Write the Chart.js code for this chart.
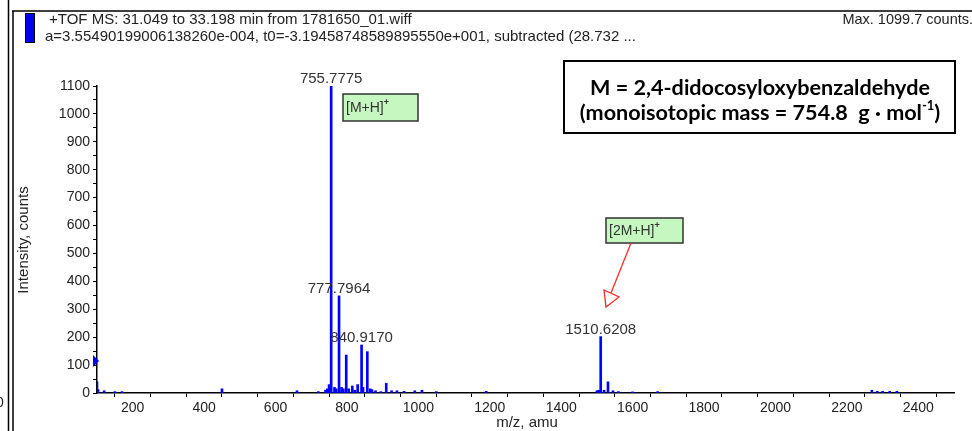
<!DOCTYPE html>
<html>
<head>
<meta charset="utf-8">
<title>TOF MS spectrum</title>
<script src="https://cdn.jsdelivr.net/npm/chart.js@4/dist/chart.umd.min.js"></script>
<style>
  html, body { margin: 0; padding: 0; background: #fff; }
  canvas { display: block; }
</style>
</head>
<body>
<canvas id="spectrum" width="972" height="431"></canvas>
<script>
// peak list: m/z and intensity (counts)
const mzValues = [100, 103, 120, 150, 170, 450, 660, 720, 740, 745, 750, 755.7775, 765, 770, 777.7964, 785, 790, 798,
  805, 815, 822, 830, 840.917, 845, 857, 865, 870, 880, 895, 910, 925, 940, 960, 990, 1010, 1050, 1190,
  1500, 1505, 1510.6208, 1520, 1531, 1545, 1560, 1600, 1670, 2270, 2285, 2300, 2320, 2340];
const intensities = [40, 12, 8, 5, 5, 15, 8, 5, 10, 15, 30, 1099.7, 20, 15, 348, 20, 15, 136,
  15, 25, 10, 30, 172, 20, 148, 15, 12, 8, 5, 35, 8, 8, 6, 8, 10, 5, 6,
  8, 10, 202, 10, 40, 8, 5, 4, 5, 10, 6, 6, 6, 6];
// peaks that get their m/z printed above them
const labelledPeaks = [755.7775, 777.7964, 840.917, 1510.6208];
const xTicks = [200, 400, 600, 800, 1000, 1200, 1400, 1600, 1800, 2000, 2200, 2400];
const yTicks = [0, 100, 200, 300, 400, 500, 600, 700, 800, 900, 1000, 1100];
const thresholdLevel = 115;

const points = mzValues.map((mz, i) => ({ x: mz, y: intensities[i] }));

function heightOf(mz) {
  return intensities[mzValues.indexOf(mz)];
}

const ARIAL = '"Liberation Sans", Arial, sans-serif';
const BOXFONT = 'Lato, "Open Sans", sans-serif';

const overlay = {
  id: 'overlay',
  afterDraw(chart) {
    const ctx = chart.ctx;
    const xs = chart.scales.x, ys = chart.scales.y;
    ctx.save();

    // window frame
    ctx.strokeStyle = '#000';
    ctx.lineWidth = 1.5;
    ctx.beginPath();
    ctx.moveTo(8.5, 0); ctx.lineTo(8.5, 431);
    ctx.moveTo(13, 11); ctx.lineTo(13, 431);
    ctx.moveTo(12, 11); ctx.lineTo(972, 11);
    ctx.stroke();

    ctx.fillStyle = '#222';
    ctx.font = '14px ' + ARIAL;
    ctx.textAlign = 'left';
    ctx.textBaseline = 'middle';
    ctx.fillText('0', -4, 403);

    // header
    ctx.fillStyle = '#0000ee';
    ctx.fillRect(25, 13, 10, 30);
    ctx.strokeStyle = '#000';
    ctx.lineWidth = 1;
    ctx.strokeRect(25.5, 13.5, 9, 29);
    ctx.fillStyle = '#222';
    ctx.font = '15px ' + ARIAL;
    ctx.fillText('+TOF MS: 31.049 to 33.198 min from 1781650_01.wiff', 49, 20);
    ctx.fillText('a=3.55490199006138260e-004, t0=-3.19458748589895550e+001, subtracted (28.732 ...', 45, 37);
    ctx.textAlign = 'right';
    ctx.font = '14.5px ' + ARIAL;
    ctx.fillText('Max. 1099.7 counts.', 973, 20);

    // axis titles
    ctx.font = '15px ' + ARIAL;
    ctx.textAlign = 'center';
    ctx.fillText('m/z, amu', 527, 423);
    ctx.save();
    ctx.translate(24, 240);
    ctx.rotate(-Math.PI / 2);
    ctx.fillText('Intensity, counts', 0, 0);
    ctx.restore();

    // peak labels
    ctx.font = '15px ' + ARIAL;
    ctx.fillStyle = '#333';
    ctx.textBaseline = 'alphabetic';
    labelledPeaks.forEach(mz => {
      const px = xs.getPixelForValue(mz);
      const py = ys.getPixelForValue(heightOf(mz));
      ctx.fillText(mz.toFixed(4), px, py - 3);
    });

    // threshold marker on the intensity axis
    const ty = ys.getPixelForValue(thresholdLevel);
    ctx.fillStyle = '#0000ee';
    ctx.beginPath();
    ctx.moveTo(93, ty - 6);
    ctx.lineTo(99, ty);
    ctx.lineTo(93, ty + 6);
    ctx.closePath();
    ctx.fill();

    // compound box
    ctx.strokeStyle = '#000';
    ctx.lineWidth = 2;
    ctx.strokeRect(564, 61, 391, 72);
    ctx.fillStyle = '#000';
    const line1 = 'M = 2,4-didocosyloxybenzaldehyde';
    ctx.font = 'bold 18px ' + BOXFONT;
    const size = 18 * 340 / ctx.measureText(line1).width;
    const big = 'bold ' + size.toFixed(1) + 'px ' + BOXFONT;
    const small = 'bold ' + (size * 0.6).toFixed(1) + 'px ' + BOXFONT;
    ctx.font = big;
    ctx.textAlign = 'center';
    ctx.textBaseline = 'middle';
    ctx.fillText(line1, 760, 88);
    const main = '(monoisotopic mass = 754.8  g \u00b7 mol';
    const sup = '-1';
    const tail = ')';
    const wMain = ctx.measureText(main).width;
    const wTail = ctx.measureText(tail).width;
    ctx.font = small;
    const wSup = ctx.measureText(sup).width;
    const x0 = 760 - (wMain + wSup + wTail) / 2;
    ctx.textAlign = 'left';
    ctx.font = big;
    ctx.fillText(main, x0, 113);
    ctx.font = small;
    ctx.fillText(sup, x0 + wMain, 106);
    ctx.font = big;
    ctx.fillText(tail, x0 + wMain + wSup, 113);

    // ion tags
    function tag(x, y, w, h, text) {
      ctx.fillStyle = '#c6f7c0';
      ctx.fillRect(x, y, w, h);
      ctx.strokeStyle = '#333';
      ctx.lineWidth = 1.5;
      ctx.strokeRect(x, y, w, h);
      ctx.fillStyle = '#333';
      ctx.font = '14px ' + ARIAL;
      ctx.textAlign = 'left';
      ctx.textBaseline = 'middle';
      ctx.fillText(text, x + 3, y + h / 2 + 1);
      const tw = ctx.measureText(text).width;
      ctx.font = 'bold 9px ' + ARIAL;
      ctx.fillText('+', x + 3 + tw, y + h / 2 - 5);
    }
    tag(343, 94, 75, 27, '[M+H]');
    tag(606, 218, 77, 25, '[2M+H]');

    // arrow to the dimer peak
    ctx.strokeStyle = '#ff2a2a';
    ctx.lineWidth = 1.3;
    ctx.beginPath();
    ctx.moveTo(631, 243);
    ctx.lineTo(611, 293);
    ctx.stroke();
    ctx.beginPath();
    ctx.moveTo(606, 307);
    ctx.lineTo(604, 290);
    ctx.lineTo(619, 297);
    ctx.closePath();
    ctx.stroke();

    ctx.restore();
  }
};

new Chart(document.getElementById('spectrum'), {
  type: 'bar',
  data: {
    datasets: [{
      data: points,
      backgroundColor: '#0000ff',
      borderWidth: 0,
      barThickness: 2
    }]
  },
  options: {
    responsive: false,
    animation: false,
    events: [],
    layout: { padding: { left: 0, top: 86, right: 18, bottom: 0 } },
    plugins: { legend: { display: false }, tooltip: { enabled: false } },
    scales: {
      x: {
        type: 'linear',
        min: 100,
        max: 2500,
        offset: false,
        afterFit: s => { s.height = 38; },
        border: { display: true, color: '#000', width: 1.5 },
        grid: { drawOnChartArea: false, drawTicks: true, tickLength: 4, color: '#000' },
        ticks: {
          stepSize: 100,
          autoSkip: false,
          maxRotation: 0,
          padding: 3,
          color: '#222',
          font: { family: ARIAL, size: 14 },
          callback: v => xTicks.includes(v) ? String(v) : ''
        }
      },
      y: {
        min: 0,
        max: 1100,
        afterFit: s => { s.width = 97; },
        border: { display: true, color: '#000', width: 1.5 },
        grid: { drawOnChartArea: false, drawTicks: true, tickLength: 4, color: '#000' },
        ticks: {
          stepSize: 50,
          autoSkip: false,
          padding: 3,
          color: '#222',
          font: { family: ARIAL, size: 14 },
          callback: v => yTicks.includes(v) ? String(v) : ''
        }
      }
    }
  },
  plugins: [overlay]
});
</script>
</body>
</html>
